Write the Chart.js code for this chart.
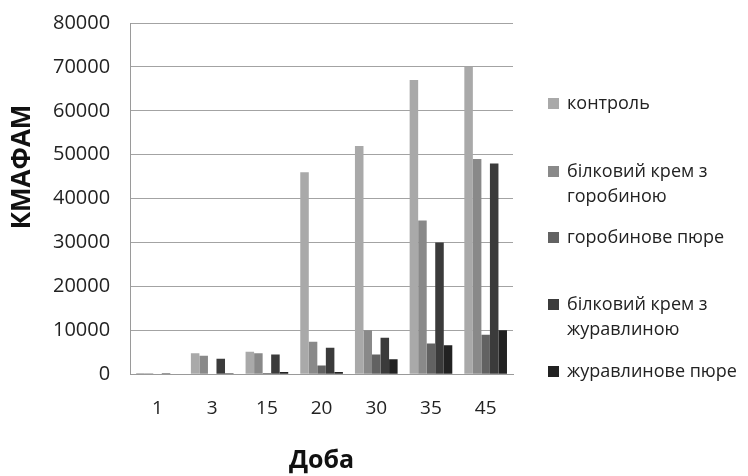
<!DOCTYPE html>
<html>
<head>
<meta charset="utf-8">
<script src="https://cdn.jsdelivr.net/npm/chart.js@4"></script>
<style>
    body { margin: 0; background: #fff; }
    #wrap { position: relative; width: 748px; height: 476px; }
    #legend { position: absolute; left: 548px; top: 0; font-family: "Open Sans", sans-serif; font-size: 18px; color: #222; }
    .leg-item { position: absolute; left: 0; white-space: nowrap; line-height: 25px; }
    .leg-box { position: absolute; left: 0; top: 8px; width: 11px; height: 11px; }
    .leg-text { margin-left: 19px; }
</style>
</head>
<body>
<div id="wrap">
    <canvas id="chart" width="748" height="476"></canvas>
    <div id="legend"></div>
</div>
<script>
// Дані з графіка
const days = ['1', '3', '15', '20', '30', '35', '45'];
const seriesNames = ['контроль', 'білковий крем з\nгоробиною', 'горобинове пюре', 'білковий крем з\nжуравлиною', 'журавлинове пюре'];
const kontrol = [300, 4800, 5100, 46000, 52000, 67000, 70000];
const kremGorobyna = [200, 4200, 4800, 7400, 10000, 35000, 49000];
const pureGorobyna = [100, 100, 300, 2000, 4500, 7000, 9000];
const kremZhuravlyna = [200, 3500, 4500, 6000, 8300, 30000, 48000];
const pureZhuravlyna = [100, 200, 500, 500, 3400, 6600, 10000];
const yTicks = [0, 10000, 20000, 30000, 40000, 50000, 60000, 70000, 80000];
const yTitle = 'КМАФАМ';

const colors = ['#a9a9a9', '#898989', '#626262', '#3b3b3b', '#222222'];
const allSeries = [kontrol, kremGorobyna, pureGorobyna, kremZhuravlyna, pureZhuravlyna];
const legendTops = [90, 158, 224, 291, 358];

// вертикальний підпис осі Y (трохи вище центру, як в оригіналі)
const yTitlePlugin = {
    id: 'yTitle',
    afterDraw(c) {
        const ctx = c.ctx;
        ctx.save();
        ctx.translate(23, 167);
        ctx.rotate(-Math.PI / 2);
        ctx.font = 'bold 26px "Open Sans"';
        ctx.fillStyle = '#111';
        ctx.textAlign = 'center';
        ctx.textBaseline = 'middle';
        ctx.fillText(yTitle, 0, 0);
        ctx.restore();
    }
};

const chart = new Chart(document.getElementById('chart'), {
    type: 'bar',
    data: {
        labels: days,
        datasets: allSeries.map((vals, i) => ({
            label: seriesNames[i].replace('\n', ' '),
            data: vals,
            backgroundColor: colors[i],
            borderWidth: 0,
            categoryPercentage: 0.78,
            barPercentage: 1.0
        }))
    },
    plugins: [yTitlePlugin],
    options: {
        responsive: false,
        animation: false,
        layout: { padding: { left: 33, right: 235, top: 23, bottom: 0 } },
        plugins: {
            legend: { display: false },
            tooltip: { enabled: false }
        },
        scales: {
            x: {
                grid: { display: false, drawTicks: false },
                border: { color: '#9a9a9a', width: 1 },
                ticks: { color: '#222', font: { family: 'Open Sans', size: 19 }, padding: 23 },
                title: {
                    display: true,
                    text: 'Доба',
                    color: '#111',
                    font: { family: 'Open Sans', size: 25, weight: 'bold' },
                    padding: { top: 3, bottom: 0 }
                }
            },
            y: {
                min: 0,
                max: 80000,
                afterBuildTicks: scale => { scale.ticks = yTicks.map(v => ({ value: v })); },
                afterFit: scale => { scale.paddingTop = 0; },
                grid: { color: '#a3a3a3', lineWidth: 1, drawTicks: false },
                border: { color: '#9a9a9a', width: 1 },
                ticks: { color: '#222', font: { family: 'Open Sans', size: 20 }, padding: 20, callback: v => String(v) }
            }
        }
    }
});

// легенда праворуч
const legend = document.getElementById('legend');
seriesNames.forEach((name, i) => {
    const item = document.createElement('div');
    item.className = 'leg-item';
    item.style.top = legendTops[i] + 'px';
    item.innerHTML = `<span class="leg-box" style="background:${colors[i]}"></span><div class="leg-text">${name.split('\n').join('<br>')}</div>`;
    legend.appendChild(item);
});
</script>
</body>
</html>
